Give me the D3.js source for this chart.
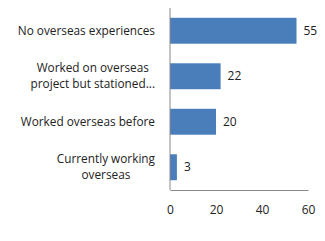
<!DOCTYPE html>
<html lang="en">
<head>
<meta charset="UTF-8">
<title>Overseas experience</title>
<style>
  body { margin: 0; background: #fff; }
  text { font-family: "Open Sans", "Liberation Sans", sans-serif; fill: #222; }
</style>
</head>
<body>
<svg></svg>
<script src="https://d3js.org/d3.v7.min.js"></script>
<script>
// chart data
const categories = [
  ["No overseas experiences"],
  ["Worked on overseas", "project but stationed..."],
  ["Worked overseas before"],
  ["Currently working", "overseas"]
];
const values = [55, 22, 20, 3];
const xTicks = [0, 20, 40, 60];

const width = 325, height = 241;
const svg = d3.select("svg").attr("width", width).attr("height", height);

const plotLeft = 170, plotRight = 308, plotTop = 8, plotBottom = 190;

const x = d3.scaleLinear().domain([0, 60]).range([plotLeft, plotRight]);
const y = d3.scaleBand().domain(d3.range(values.length)).range([plotTop, plotBottom]).paddingInner(0.43).paddingOuter(0.215);

// bars
svg.append("g").selectAll("rect")
  .data(values)
  .join("rect")
  .attr("x", x(0))
  .attr("y", (d, i) => y(i))
  .attr("width", d => x(d) - x(0))
  .attr("height", y.bandwidth())
  .attr("fill", "#4a7ebb");

// value labels
svg.append("g").selectAll("text")
  .data(values)
  .join("text")
  .attr("x", d => x(d) + 7)
  .attr("y", (d, i) => y(i) + y.bandwidth() / 2)
  .attr("dy", "0.35em")
  .attr("font-size", 12)
  .text(d => d);

// category labels: lines centred within a block that is right-aligned at 155
const fs = 11.8, lh = 16, labelRight = 155;
const cat = svg.append("g").selectAll("text")
  .data(categories)
  .join("text")
  .attr("font-size", fs)
  .attr("text-anchor", "middle")
  .attr("y", (d, i) => y(i) + y.bandwidth() / 2);
cat.each(function(lines) {
  const t = d3.select(this);
  const spans = lines.map((s, k) => t.append("tspan")
    .attr("dy", k === 0 ? (0.35 * fs - (lines.length - 1) / 2 * lh) : lh)
    .text(s));
  const maxW = d3.max(spans, sp => sp.node().getComputedTextLength());
  spans.forEach(sp => sp.attr("x", labelRight - maxW / 2));
});

// axes
const xAxis = svg.append("g")
  .attr("transform", `translate(0,${plotBottom})`)
  .call(d3.axisBottom(x).tickValues(xTicks).tickSize(0).tickPadding(15));
xAxis.select(".domain").attr("stroke", "#888");
xAxis.selectAll("text").attr("font-size", 12).attr("fill", "#222")
  .style("font-family", "'Open Sans', 'Liberation Sans', sans-serif");

svg.append("line")
  .attr("x1", plotLeft).attr("x2", plotLeft)
  .attr("y1", plotTop).attr("y2", plotBottom)
  .attr("stroke", "#888");
</script>
</body>
</html>
